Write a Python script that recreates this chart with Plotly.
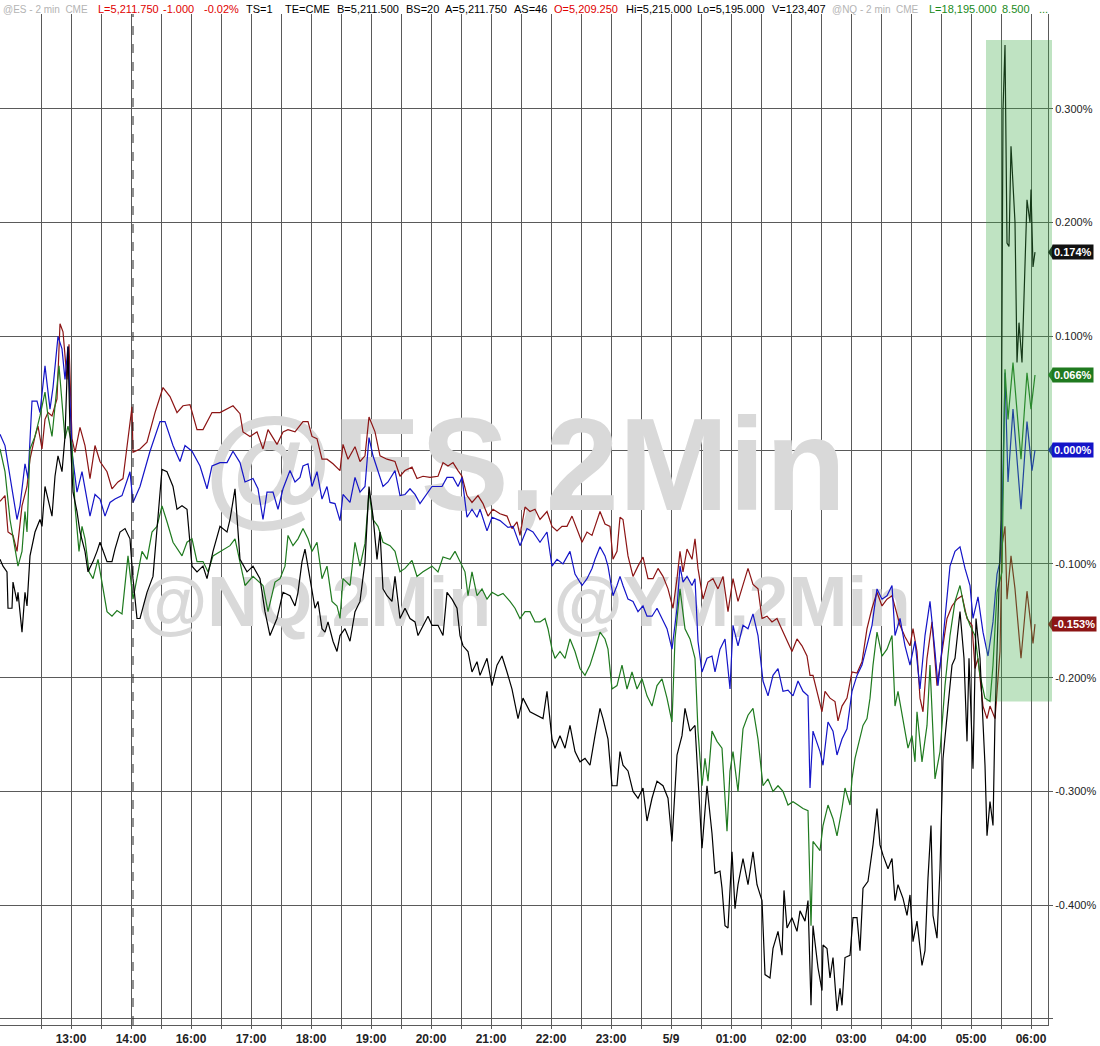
"""ES / NQ / YM 2-min % change overlay, TradeStation style."""

import plotly.graph_objects as go

# minutes from 13:00 (bar-index axis, session gaps removed) and % change
blue_t = [-71, -66, -59, -54, -51, -46, -43, -39, -34, -31, -26, -21, -18, -13, -9, -6, -3, 1, 6, 11,
          19, 24, 29, 34, 39, 44, 51, 59, 62, 69, 79, 89, 94, 102, 109, 114, 121, 129, 136, 141,
          149, 156, 162, 169, 174, 182, 187, 192, 196, 202, 207, 212, 219, 224, 229, 232, 237, 241, 246, 251,
          256, 259, 264, 269, 272, 279, 284, 289, 294, 298, 302, 307, 312, 317, 324, 329, 334, 339, 344, 349,
          354, 361, 371, 376, 382, 387, 391, 396, 401, 406, 409, 416, 421, 429, 437, 442, 449, 456, 462, 469,
          476, 481, 486, 492, 499, 504, 511, 516, 521, 524, 529, 534, 537, 542, 546, 549, 552, 557, 562, 567,
          572, 576, 581, 586, 591, 596, 601, 606, 609, 612, 616, 621, 624, 627, 631, 636, 641, 644, 649, 654,
          659, 662, 667, 672, 677, 682, 687, 692, 697, 702, 707, 712, 717, 722, 727, 732, 737, 739, 742, 749,
          752, 757, 762, 766, 771, 776, 781, 786, 791, 796, 801, 806, 811, 816, 821, 824, 829, 834, 839, 844,
          849, 854, 859, 864, 867, 872, 879, 884, 889, 894, 899, 902, 907, 912, 917, 922, 926, 929, 931, 934,
          937, 942, 950, 956, 961, 964]
blue_v = [0.014, 0.004, -0.034, -0.061, -0.049, -0.012, -0.025, 0.043, 0.043, 0.033, 0.074, 0.036, 0.055, 0.100, 0.089, 0.062, 0.091, -0.002, -0.037, -0.019,
          -0.058, -0.039, -0.043, -0.058, -0.046, -0.043, -0.040, -0.019, -0.046, -0.032, -0.001, 0.025, 0.025, 0.004, -0.010, 0.004, -0.001, -0.014, -0.034, -0.014,
          -0.011, -0.011, -0.001, -0.011, -0.028, -0.025, -0.034, -0.061, -0.037, -0.037, -0.052, -0.034, -0.018, -0.028, -0.024, -0.014, -0.012, -0.032, -0.019, -0.043,
          -0.032, -0.046, -0.047, -0.062, -0.039, -0.046, -0.024, -0.037, -0.032, 0.011, -0.005, -0.019, -0.032, -0.028, -0.018, -0.040, -0.039, -0.034, -0.039, -0.047,
          -0.041, -0.032, -0.032, -0.024, -0.024, -0.032, -0.024, -0.059, -0.052, -0.059, -0.052, -0.071, -0.059, -0.062, -0.068, -0.067, -0.084, -0.069, -0.072, -0.081,
          -0.072, -0.102, -0.096, -0.100, -0.089, -0.109, -0.119, -0.113, -0.104, -0.096, -0.085, -0.093, -0.102, -0.128, -0.119, -0.111, -0.119, -0.131, -0.133, -0.142,
          -0.137, -0.146, -0.146, -0.139, -0.148, -0.157, -0.175, -0.139, -0.102, -0.116, -0.111, -0.119, -0.113, -0.168, -0.195, -0.183, -0.181, -0.195, -0.175, -0.166,
          -0.210, -0.154, -0.172, -0.154, -0.157, -0.144, -0.163, -0.203, -0.216, -0.198, -0.192, -0.212, -0.211, -0.216, -0.203, -0.212, -0.216, -0.297, -0.247, -0.265,
          -0.277, -0.239, -0.247, -0.268, -0.254, -0.245, -0.212, -0.198, -0.189, -0.172, -0.154, -0.122, -0.131, -0.128, -0.119, -0.163, -0.148, -0.172, -0.189, -0.168,
          -0.210, -0.163, -0.133, -0.177, -0.207, -0.166, -0.102, -0.089, -0.085, -0.104, -0.119, -0.148, -0.129, -0.160, -0.181, -0.151, -0.109, -0.098, -0.061, 0.068,
          -0.028, 0.036, -0.052, 0.025, -0.018, 0.000]

red_t = [-71, -66, -63, -58, -54, -49, -44, -41, -36, -33, -29, -26, -23, -19, -14, -11, -8, -4, -2, 1,
         4, 9, 14, 19, 24, 29, 36, 41, 47, 52, 57, 61, 62, 69, 76, 84, 92, 99, 106, 112,
         119, 126, 132, 141, 149, 156, 162, 169, 172, 179, 186, 192, 197, 206, 212, 217, 224, 232, 237, 241,
         246, 251, 256, 262, 269, 272, 277, 284, 289, 294, 298, 304, 309, 316, 324, 329, 334, 341, 346, 352,
         359, 367, 372, 377, 382, 387, 391, 396, 401, 407, 412, 417, 422, 429, 436, 441, 446, 449, 454, 459,
         464, 469, 476, 481, 486, 491, 496, 501, 506, 511, 516, 521, 524, 529, 534, 539, 542, 546, 549, 552,
         557, 562, 567, 572, 577, 582, 587, 592, 597, 602, 606, 609, 612, 616, 621, 624, 627, 632, 637, 642,
         647, 652, 657, 662, 667, 672, 677, 682, 687, 691, 696, 701, 706, 709, 716, 721, 726, 731, 736, 739,
         742, 746, 751, 754, 759, 764, 767, 771, 776, 781, 786, 791, 796, 801, 806, 811, 816, 821, 824, 829,
         834, 839, 842, 846, 849, 852, 856, 861, 866, 871, 876, 881, 886, 891, 896, 901, 904, 907, 912, 916,
         919, 924, 929, 931, 934, 936, 940, 944, 950, 956, 962, 964]
red_v = [-0.045, -0.040, -0.072, -0.075, -0.089, -0.049, -0.032, -0.008, 0.012, 0.021, 0.001, 0.027, 0.033, 0.030, 0.045, 0.111, 0.104, 0.062, 0.093, 0.010,
         -0.002, 0.020, 0.004, -0.025, 0.004, -0.010, -0.019, -0.034, -0.028, -0.025, 0.010, 0.038, -0.002, 0.001, 0.007, 0.033, 0.055, 0.047, 0.033, 0.039,
         0.040, 0.018, 0.018, 0.033, 0.033, 0.036, 0.039, 0.032, 0.016, 0.012, 0.016, 0.001, 0.018, 0.005, 0.016, 0.018, 0.016, 0.025, 0.025, 0.012,
         0.010, -0.008, -0.008, -0.012, -0.018, 0.005, -0.008, 0.003, -0.010, -0.005, 0.029, 0.016, -0.005, -0.008, -0.010, -0.023, -0.018, -0.015, -0.025, -0.023,
         -0.024, -0.023, -0.011, -0.014, -0.011, -0.018, -0.023, -0.040, -0.046, -0.040, -0.047, -0.058, -0.052, -0.056, -0.058, -0.069, -0.063, -0.075, -0.050, -0.054,
         -0.052, -0.061, -0.054, -0.067, -0.071, -0.067, -0.067, -0.058, -0.069, -0.081, -0.072, -0.075, -0.067, -0.054, -0.065, -0.067, -0.096, -0.089, -0.059, -0.061,
         -0.093, -0.111, -0.102, -0.094, -0.113, -0.113, -0.104, -0.111, -0.122, -0.139, -0.113, -0.089, -0.107, -0.087, -0.096, -0.078, -0.104, -0.131, -0.116, -0.113,
         -0.122, -0.111, -0.142, -0.113, -0.133, -0.119, -0.104, -0.118, -0.122, -0.148, -0.146, -0.151, -0.148, -0.154, -0.168, -0.177, -0.166, -0.172, -0.181, -0.198,
         -0.198, -0.212, -0.230, -0.212, -0.218, -0.221, -0.238, -0.225, -0.218, -0.195, -0.196, -0.186, -0.157, -0.139, -0.125, -0.137, -0.131, -0.128, -0.137, -0.154,
         -0.164, -0.172, -0.157, -0.177, -0.218, -0.230, -0.183, -0.151, -0.207, -0.177, -0.148, -0.137, -0.131, -0.128, -0.148, -0.154, -0.192, -0.183, -0.225, -0.236,
         -0.225, -0.236, -0.177, -0.084, -0.067, -0.131, -0.093, -0.122, -0.183, -0.124, -0.170, -0.153]

green_t = [-71, -66, -61, -56, -53, -49, -46, -44, -41, -36, -31, -26, -23, -19, -16, -12, -9, -6, -3, 1,
           4, 8, 11, 14, 18, 22, 27, 31, 36, 41, 46, 51, 57, 62, 66, 71, 76, 81, 86, 91,
           96, 102, 111, 116, 121, 126, 132, 137, 142, 149, 159, 164, 169, 174, 182, 192, 197, 204, 209, 214,
           217, 222, 227, 232, 237, 241, 246, 251, 256, 261, 266, 269, 272, 279, 284, 289, 294, 298, 302, 307,
           312, 319, 324, 329, 334, 341, 346, 352, 361, 367, 372, 379, 384, 389, 394, 397, 401, 406, 411, 416,
           421, 427, 432, 439, 444, 449, 454, 459, 464, 469, 474, 477, 481, 484, 489, 494, 499, 504, 509, 514,
           519, 524, 529, 534, 537, 541, 546, 551, 556, 561, 566, 571, 576, 581, 586, 591, 596, 601, 604, 609,
           614, 619, 624, 627, 631, 634, 637, 641, 646, 651, 656, 659, 662, 667, 672, 677, 682, 687, 692, 697,
           702, 707, 712, 717, 722, 727, 732, 737, 740, 742, 749, 752, 757, 762, 766, 771, 774, 779, 781, 784,
           789, 792, 796, 799, 802, 806, 811, 816, 821, 824, 827, 832, 837, 841, 844, 846, 851, 856, 859, 864,
           869, 874, 879, 884, 889, 894, 899, 904, 909, 914, 919, 922, 926, 931, 934, 937, 942, 950, 956, 960,
           964]
green_v = [0.001, -0.019, -0.061, -0.089, -0.102, -0.089, -0.054, -0.072, 0.001, 0.012, 0.030, 0.051, 0.030, 0.012, 0.036, 0.074, 0.042, 0.010, 0.021, 0.004,
           -0.049, -0.089, -0.067, -0.078, -0.107, -0.113, -0.096, -0.116, -0.142, -0.146, -0.141, -0.144, -0.093, -0.131, -0.113, -0.089, -0.096, -0.072, -0.067, -0.049,
           -0.063, -0.081, -0.093, -0.081, -0.078, -0.098, -0.098, -0.107, -0.093, -0.089, -0.084, -0.078, -0.098, -0.119, -0.111, -0.119, -0.142, -0.116, -0.113, -0.102,
           -0.075, -0.084, -0.078, -0.069, -0.078, -0.089, -0.081, -0.113, -0.102, -0.133, -0.137, -0.148, -0.113, -0.119, -0.081, -0.102, -0.082, -0.037, -0.061, -0.067,
           -0.081, -0.084, -0.089, -0.107, -0.104, -0.097, -0.111, -0.107, -0.102, -0.107, -0.094, -0.096, -0.089, -0.098, -0.107, -0.128, -0.107, -0.128, -0.122, -0.131,
           -0.125, -0.128, -0.126, -0.133, -0.139, -0.148, -0.142, -0.142, -0.151, -0.151, -0.148, -0.157, -0.175, -0.183, -0.177, -0.183, -0.166, -0.177, -0.192, -0.198,
           -0.189, -0.175, -0.160, -0.166, -0.175, -0.210, -0.207, -0.189, -0.210, -0.195, -0.210, -0.201, -0.216, -0.225, -0.207, -0.201, -0.218, -0.239, -0.166, -0.122,
           -0.157, -0.166, -0.183, -0.247, -0.295, -0.271, -0.291, -0.247, -0.256, -0.262, -0.335, -0.282, -0.265, -0.300, -0.245, -0.233, -0.227, -0.254, -0.295, -0.289,
           -0.300, -0.295, -0.300, -0.312, -0.309, -0.312, -0.315, -0.317, -0.418, -0.344, -0.352, -0.330, -0.312, -0.324, -0.339, -0.315, -0.297, -0.312, -0.289, -0.271,
           -0.254, -0.242, -0.236, -0.218, -0.189, -0.160, -0.181, -0.175, -0.163, -0.225, -0.212, -0.236, -0.262, -0.251, -0.274, -0.230, -0.274, -0.242, -0.189, -0.289,
           -0.265, -0.207, -0.163, -0.133, -0.119, -0.142, -0.154, -0.163, -0.198, -0.218, -0.221, -0.189, -0.125, -0.107, 0.071, 0.027, 0.077, -0.008, 0.068, 0.036,
           0.066]

black_t = [-71, -68, -64, -63, -59, -58, -54, -53, -49, -46, -44, -41, -36, -31, -29, -26, -23, -19, -16, -13,
           -9, -6, -3, -1, 2, 6, 9, 14, 17, 22, 26, 29, 36, 41, 44, 49, 54, 59, 62, 66,
           69, 76, 82, 86, 91, 96, 102, 106, 111, 116, 121, 126, 132, 136, 142, 149, 156, 159, 164, 169,
           176, 182, 189, 194, 199, 206, 212, 219, 224, 227, 231, 234, 237, 241, 244, 247, 251, 254, 257, 262,
           266, 269, 274, 279, 284, 289, 294, 298, 302, 306, 309, 312, 316, 321, 324, 329, 334, 339, 344, 347,
           352, 357, 361, 367, 372, 376, 381, 386, 389, 392, 397, 401, 406, 409, 416, 421, 426, 431, 436, 441,
           447, 452, 459, 466, 472, 476, 481, 484, 489, 494, 499, 504, 509, 514, 519, 524, 529, 532, 537, 541,
           546, 549, 552, 557, 562, 567, 572, 576, 581, 586, 592, 597, 601, 606, 611, 614, 619, 624, 627, 631,
           636, 641, 644, 649, 651, 654, 657, 661, 664, 667, 672, 677, 682, 686, 691, 694, 699, 702, 707, 711,
           713, 716, 721, 726, 729, 734, 737, 740, 742, 747, 751, 752, 756, 759, 762, 766, 769, 771, 774, 779,
           782, 786, 789, 792, 797, 802, 806, 809, 812, 817, 821, 824, 827, 832, 836, 839, 842, 846, 851, 854,
           857, 860, 862, 866, 869, 872, 877, 881, 884, 889, 893, 896, 898, 902, 905, 909, 914, 916, 919, 922,
           924, 927, 930, 932, 934, 936, 938, 940, 944, 946, 948, 951, 956, 959, 960, 962, 964]
black_v = [-0.096, -0.102, -0.107, -0.139, -0.139, -0.116, -0.133, -0.125, -0.160, -0.125, -0.137, -0.093, -0.072, -0.061, -0.067, -0.032, -0.043, -0.058, -0.023, -0.005,
           -0.019, 0.012, 0.091, 0.016, -0.037, -0.054, -0.072, -0.089, -0.107, -0.098, -0.089, -0.081, -0.098, -0.098, -0.087, -0.072, -0.069, -0.078, -0.113, -0.148,
           -0.148, -0.125, -0.111, -0.072, -0.017, -0.019, -0.032, -0.052, -0.049, -0.052, -0.102, -0.107, -0.102, -0.113, -0.089, -0.067, -0.072, -0.061, -0.034, -0.096,
           -0.107, -0.102, -0.113, -0.142, -0.163, -0.148, -0.125, -0.128, -0.137, -0.125, -0.098, -0.087, -0.102, -0.122, -0.139, -0.133, -0.157, -0.160, -0.151, -0.168,
           -0.177, -0.163, -0.157, -0.168, -0.142, -0.133, -0.098, -0.032, -0.058, -0.096, -0.072, -0.122, -0.128, -0.133, -0.111, -0.148, -0.139, -0.148, -0.151, -0.163,
           -0.154, -0.146, -0.154, -0.154, -0.163, -0.125, -0.131, -0.139, -0.163, -0.172, -0.177, -0.195, -0.186, -0.198, -0.183, -0.207, -0.189, -0.181, -0.195, -0.210,
           -0.236, -0.218, -0.230, -0.233, -0.236, -0.212, -0.254, -0.262, -0.251, -0.262, -0.242, -0.265, -0.274, -0.271, -0.277, -0.251, -0.227, -0.236, -0.254, -0.295,
           -0.295, -0.265, -0.277, -0.282, -0.300, -0.306, -0.297, -0.326, -0.306, -0.291, -0.295, -0.306, -0.344, -0.268, -0.251, -0.227, -0.247, -0.242, -0.291, -0.350,
           -0.295, -0.337, -0.372, -0.370, -0.385, -0.418, -0.420, -0.353, -0.403, -0.382, -0.359, -0.382, -0.353, -0.382, -0.396, -0.461, -0.464, -0.438, -0.423, -0.444,
           -0.387, -0.420, -0.411, -0.423, -0.405, -0.414, -0.396, -0.488, -0.418, -0.455, -0.475, -0.435, -0.438, -0.464, -0.446, -0.493, -0.473, -0.488, -0.446, -0.444,
           -0.411, -0.411, -0.440, -0.385, -0.379, -0.347, -0.315, -0.347, -0.356, -0.368, -0.359, -0.396, -0.382, -0.394, -0.409, -0.391, -0.432, -0.414, -0.453, -0.440,
           -0.376, -0.330, -0.409, -0.429, -0.368, -0.271, -0.225, -0.189, -0.183, -0.142, -0.183, -0.256, -0.183, -0.280, -0.148, -0.183, -0.277, -0.339, -0.309, -0.330,
           -0.236, -0.148, -0.061, 0.299, 0.356, 0.182, 0.179, 0.267, 0.200, 0.077, 0.112, 0.077, 0.220, 0.200, 0.229, 0.161, 0.174]

tick_minutes = [0, 60, 120, 180, 240, 300, 360, 420, 480, 540, 600, 660, 720, 780, 840, 900, 960]
tick_labels = ["13:00", "14:00", "16:00", "17:00", "18:00", "19:00", "20:00", "21:00", "22:00",
               "23:00", "5/9", "01:00", "02:00", "03:00", "04:00", "05:00", "06:00"]
half_hour_minutes = [-30, 30, 90, 150, 210, 270, 330, 390, 450, 510, 570, 630, 690, 750, 810, 870, 930]
pct_ticks = [-0.5, -0.4, -0.3, -0.2, -0.1, 0.0, 0.1, 0.2, 0.3]
pct_labels = ["", "-0.400%", "-0.300%", "-0.200%", "-0.100%", "0.000%", "0.100%", "0.200%", "0.300%"]

# quote header fields: (text, colour, left edge in px, font size)
header_fields = [
    ("@ES - 2 min  CME", "#b4b4b4", 2, 10),
    ("L=5,211.750", "#e00000", 97, 11),
    ("-1.000", "#e00000", 162, 11),
    ("-0.02%", "#e00000", 203, 11),
    ("TS=1", "#000000", 245, 11),
    ("TE=CME", "#000000", 284, 11),
    ("B=5,211.500", "#000000", 336, 11),
    ("BS=20", "#000000", 405, 11),
    ("A=5,211.750", "#000000", 444, 11),
    ("AS=46", "#000000", 513, 11),
    ("O=5,209.250", "#e00000", 553, 11),
    ("Hi=5,215.000", "#000000", 625, 11),
    ("Lo=5,195.000", "#000000", 696, 11),
    ("V=123,407", "#000000", 771, 11),
    ("@NQ - 2 min  CME", "#b4b4b4", 831, 10),
    ("L=18,195.000", "#1a8a1a", 928, 11),
    ("8.500", "#1a8a1a", 1001, 11),
    ("...", "#1a8a1a", 1038, 11),
]

W, H = 1100, 1046
GRID = "#5a5a5a"
FONT = "Liberation Sans, Arial, sans-serif"
NARROW = "Liberation Sans Narrow, Arial Narrow, " + FONT
WATERMARK = "#d9d9d9"

series = [
    ("@YM", red_t, red_v, "#8c1414"),
    ("@ES", blue_t, blue_v, "#1414c8"),
    ("@RTY", green_t, green_v, "#1f7a1f"),
    ("@NQ", black_t, black_v, "#000000"),
]

fig = go.Figure()

# watermarks sit below the price lines, so they go in as the first trace
fig.add_trace(
    go.Scatter(
        x=[454, 244, 661],
        y=[-0.024, -0.139, -0.139],
        mode="text",
        text=["<b>@ES,2Min</b>", "<b>@NQ,2Min</b>", "<b>@YM,2Min</b>"],
        textfont=dict(family=FONT, size=[132, 70, 71], color=WATERMARK),
        textposition="middle center",
        hoverinfo="skip",
        showlegend=False,
    )
)

for name, t, v, color in series:
    fig.add_trace(
        go.Scatter(
            x=t,
            y=v,
            mode="lines",
            name=name,
            line=dict(color=color, width=1.2),
            showlegend=False,
        )
    )

plot_w = 1048
last_badges = [
    (black_v[-1], "#111111"),
    (green_v[-1], "#1f7a1f"),
    (blue_v[-1], "#1414c8"),
    (red_v[-1], "#8c1414"),
]
for val, color in last_badges:
    fig.add_annotation(
        x=1.0, xref="paper", xanchor="left", xshift=4,
        y=val, yref="y", yanchor="middle",
        text=f"<b>{val:.3f}%</b>",
        showarrow=False,
        bgcolor=color,
        borderpad=1,
        font=dict(family=FONT, size=11, color="white"),
    )
    # little pointer on the left side of the badge
    tip, base, dy = 1.0, 1.0 + 5 / plot_w, 0.0065
    fig.add_shape(
        type="path", xref="paper", yref="y",
        path=f"M {tip},{val} L {base},{val + dy} L {base},{val - dy} Z",
        fillcolor=color, line=dict(width=0), layer="above",
    )

for text, color, left, size in header_fields:
    fig.add_annotation(
        x=left / plot_w, xref="paper", xanchor="left",
        y=1, yref="paper", yanchor="bottom", yshift=-2,
        text=text.replace("  ", "&nbsp;&nbsp;"),
        showarrow=False,
        borderpad=0,
        font=dict(family=FONT, size=size, color=color),
    )

# highlighted window at the right edge
fig.add_shape(
    type="rect", xref="paper", yref="y",
    x0=986 / plot_w, x1=1052 / plot_w, y0=-0.221, y1=0.3605,
    fillcolor="rgb(60,170,70)", opacity=0.33,
    line=dict(width=0), layer="above",
)
# session break
fig.add_shape(
    type="line", xref="x", yref="paper",
    x0=62, x1=62, y0=0, y1=1,
    line=dict(color="#222", width=1, dash="dash"),
)

fig.update_layout(
    width=W,
    height=H,
    margin=dict(l=0, r=W - plot_w, t=14, b=19),
    plot_bgcolor="#ffffff",
    paper_bgcolor="#ffffff",
    showlegend=False,
    xaxis=dict(
        range=[-71, 977],
        tickmode="array",
        tickvals=tick_minutes,
        ticktext=[f"<b>{s}</b>" for s in tick_labels],
        showgrid=True,
        gridcolor=GRID,
        gridwidth=1,
        zeroline=False,
        showline=True,
        linecolor=GRID,
        ticks="outside",
        ticklen=3,
        tickcolor=GRID,
        tickfont=dict(family=NARROW, size=12, color="#222"),
        minor=dict(tickvals=half_hour_minutes, showgrid=True, gridcolor=GRID, gridwidth=1,
                   ticks="outside", ticklen=3, tickcolor=GRID),
    ),
    yaxis=dict(
        range=[-0.5053, 0.3833],
        side="right",
        tickmode="array",
        tickvals=pct_ticks,
        ticktext=pct_labels,
        showgrid=True,
        gridcolor=GRID,
        gridwidth=1,
        zeroline=False,
        showline=True,
        linecolor=GRID,
        ticks="outside",
        ticklen=4,
        tickcolor=GRID,
        tickfont=dict(family=FONT, size=11, color="#222"),
    ),
)

# the page's default 8px body margin would shift the whole chart
fig.write_html(
    "out.html",
    config={"displayModeBar": False},
    post_script="document.body.style.margin='0';",
)
